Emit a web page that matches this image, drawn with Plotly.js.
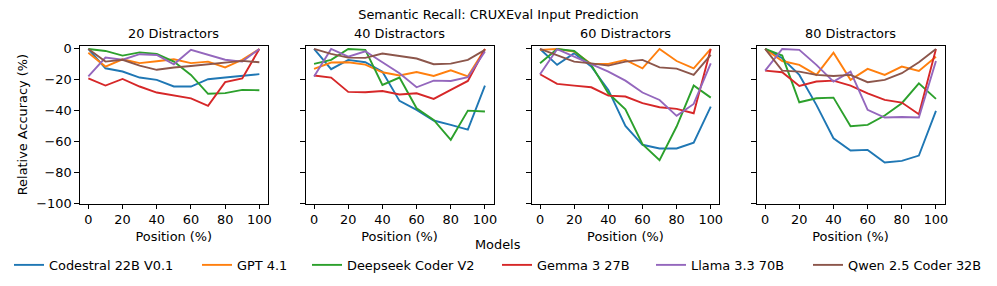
<!DOCTYPE html>
<html>
<head>
<meta charset="utf-8">
<script src="https://cdn.plot.ly/plotly-3.0.1.min.js"></script>
<style>html,body{margin:0;padding:0;background:#fff;}#chart{width:997px;height:286px;}</style>
</head>
<body>
<div id="chart"></div>
<script>
const positions = [0, 10, 20, 30, 40, 50, 60, 70, 80, 90, 100];
const panelTitles = ["20 Distractors", "40 Distractors", "60 Distractors", "80 Distractors"];
const models = ["Codestral 22B V0.1", "GPT 4.1", "Deepseek Coder V2", "Gemma 3 27B", "Llama 3.3 70B", "Qwen 2.5 Coder 32B"];
const colors = ["#1f77b4", "#ff7f0e", "#2ca02c", "#d62728", "#9467bd", "#8c564b"];

// 20 distractors
const codestral20 = [0, -12.5, -14.6, -18.5, -20, -24.3, -24.3, -19.6, -18.5, -17.4, -16.3];
const gpt20 = [-2.4, -11.4, -6.7, -9.2, -8, -6.7, -9.2, -8.2, -12, -7, 0];
const deepseek20 = [0, -1.3, -4.3, -2.2, -3.2, -8.2, -16.8, -29, -28.6, -26.5, -26.7];
const gemma20 = [-19.1, -23.7, -19.4, -24.3, -28.2, -30.3, -32, -36.8, -21.5, -19.1, 0];
const llama20 = [-17.8, -5.6, -7, -3.4, -3.9, -9.9, -0.6, -3.9, -7, -8.2, 0];
const qwen20 = [0, -8.2, -7, -10.8, -13.5, -12, -11, -9.9, -8.6, -7.7, -8.6];

// 40 distractors
const codestral40 = [0, -13.1, -7.1, -8.6, -14.7, -33.6, -39.4, -46.3, -49.1, -52.2, -23.7];
const gpt40 = [-12.9, -8.8, -8.6, -10.1, -15.1, -17.2, -14.9, -17.5, -13.8, -17.7, 0];
const deepseek40 = [-9.7, -7.1, 0, -0.6, -23.3, -18.5, -38.4, -45.9, -58.8, -39.9, -40.5];
const gemma40 = [-17.2, -18.5, -27.8, -28, -27.2, -29.5, -28.7, -32.3, -26.5, -20.7, 0];
const llama40 = [-17.9, 0, -5, -1.5, -8.6, -15.7, -24.8, -20.5, -20.7, -18.3, -1.7];
const qwen40 = [0, -3.2, -5.6, -5.8, -3, -4.7, -6.2, -9.9, -9.5, -7.1, -0.6];

// 60 distractors
const codestral60 = [0, -10.3, -2.8, -11.4, -26.5, -49.8, -62, -64.4, -64.4, -60.6, -37.3];
const gpt60 = [-0.6, 0, -1.7, -9.7, -9.7, -7.1, -12.5, 0, -7.8, -12.5, 0];
const deepseek60 = [-9.3, 0, -1.3, -10.3, -28.7, -39, -61.6, -72, -50.2, -23.7, -31.5];
const gemma60 = [-16.4, -22.6, -23.7, -24.8, -30.2, -30.8, -35.1, -37.7, -38.8, -41.6, 0];
const llama60 = [-16.4, -0.2, -5, -9.9, -14.7, -20.5, -28.2, -33, -43.3, -35.6, -9.3];
const qwen60 = [0, -3.9, -8.2, -9.3, -10.8, -8.2, -7.1, -11.9, -12.7, -16.8, -3.9];

// 80 distractors
const codestral80 = [0, -6, -16.8, -36.2, -57.8, -65.7, -65.3, -73.5, -72.4, -69, -40.1];
const gpt80 = [0, -7.8, -10.3, -16.8, -2.4, -20, -12.9, -16.8, -11.4, -14.2, -5];
const deepseek80 = [0, -4.3, -34.5, -31.9, -31.5, -50, -49.1, -43.1, -35.1, -22.2, -32.3];
const gemma80 = [-14, -15.1, -23.9, -21.1, -20.5, -23.7, -28.7, -33, -34.7, -42.2, 0];
const llama80 = [-14, 0, -0.6, -10.3, -21.1, -14.7, -39.4, -44.4, -44, -44.4, -7.8];
const qwen80 = [0, -14, -14.7, -16.8, -17.5, -16.8, -21.5, -20, -15.7, -8.6, 0];

const yTickVals = [0, -20, -40, -60, -80, -100];
const xTickVals = [0, 20, 40, 60, 80, 100];

const panels = [
  [codestral20, gpt20, deepseek20, gemma20, llama20, qwen20],
  [codestral40, gpt40, deepseek40, gemma40, llama40, qwen40],
  [codestral60, gpt60, deepseek60, gemma60, llama60, qwen60],
  [codestral80, gpt80, deepseek80, gemma80, llama80, qwen80]
];

const FONT = "DejaVu Sans, sans-serif";
const FS = 12.9;
const W = 997, H = 286;
const xDomPx = [[79.8, 267.9], [305.5, 493.5], [531.5, 719.3], [756.6, 944.5]];
const yDomPx = [45.7, 203.5];
const legendX = [14, 202, 312, 502, 656, 813];

const traces = [];
panels.forEach((series, p) => {
  series.forEach((vals, m) => {
    traces.push({
      x: positions, y: vals, type: "scatter", mode: "lines",
      name: models[m], showlegend: p === 0,
      legend: m === 0 ? "legend" : "legend" + (m + 1),
      line: {color: colors[m], width: 1.9},
      xaxis: p === 0 ? "x" : "x" + (p + 1),
      yaxis: p === 0 ? "y" : "y" + (p + 1),
      hoverinfo: "skip"
    });
  });
});

const layout = {
  width: W, height: H,
  margin: {l: 0, r: 0, t: 0, b: 0},
  paper_bgcolor: "#fff", plot_bgcolor: "#fff",
  font: {family: FONT, size: FS, color: "#000"},
  title: {text: "Semantic Recall: CRUXEval Input Prediction", x: 0.5, xanchor: "center", y: 1 - 14.5 / H, yanchor: "middle", font: {family: FONT, size: FS, color: "#000"}},
  showlegend: true,
  annotations: [],
  hovermode: false
};

models.forEach((m, i) => {
  const key = i === 0 ? "legend" : "legend" + (i + 1);
  layout[key] = {
    orientation: "h", x: (legendX[i] - 5) / W, xanchor: "left",
    y: 1 - 265 / H, yanchor: "middle",
    font: {family: FONT, size: FS, color: "#000"},
    itemwidth: 30, bgcolor: "rgba(0,0,0,0)", borderwidth: 0
  };
});

for (let p = 0; p < 4; p++) {
  const sfx = p === 0 ? "" : String(p + 1);
  layout["xaxis" + sfx] = {
    domain: [xDomPx[p][0] / W, xDomPx[p][1] / W],
    anchor: "y" + sfx,
    range: [-5, 105],
    tickvals: xTickVals,
    ticks: "outside", ticklen: 4.5, tickwidth: 1, tickcolor: "#000",
    showline: true, mirror: true, linecolor: "#000", linewidth: 1,
    showgrid: false, zeroline: false,
    tickfont: {family: FONT, size: FS, color: "#000"},
    title: {text: "Position (%)", font: {family: FONT, size: FS, color: "#000"}, standoff: 5}
  };
  layout["yaxis" + sfx] = {
    domain: [1 - yDomPx[1] / H, 1 - yDomPx[0] / H],
    anchor: "x" + sfx,
    range: [-100, 2.1],
    tickvals: yTickVals,
    ticks: "outside", ticklen: 4.5, tickwidth: 1, tickcolor: "#000",
    showline: true, mirror: true, linecolor: "#000", linewidth: 1,
    showgrid: false, zeroline: false,
    showticklabels: p === 0,
    tickfont: {family: FONT, size: FS, color: "#000"},
    title: p === 0 ? {text: "Relative Accuracy (%)", font: {family: FONT, size: FS, color: "#000"}, standoff: 5} : {text: ""}
  };
  layout.annotations.push({
    text: panelTitles[p], xref: "paper", yref: "paper",
    x: (xDomPx[p][0] + xDomPx[p][1]) / 2 / W, y: 1 - 34 / H,
    xanchor: "center", yanchor: "middle", showarrow: false,
    font: {family: FONT, size: FS, color: "#000"}
  });
}
layout.annotations.push({
  text: "Models", xref: "paper", yref: "paper", x: 498 / W, y: 1 - 244.5 / H,
  xanchor: "center", yanchor: "middle", showarrow: false,
  font: {family: FONT, size: FS, color: "#000"}
});

Plotly.newPlot("chart", traces, layout, {displayModeBar: false, staticPlot: true});
</script>
</body>
</html>
